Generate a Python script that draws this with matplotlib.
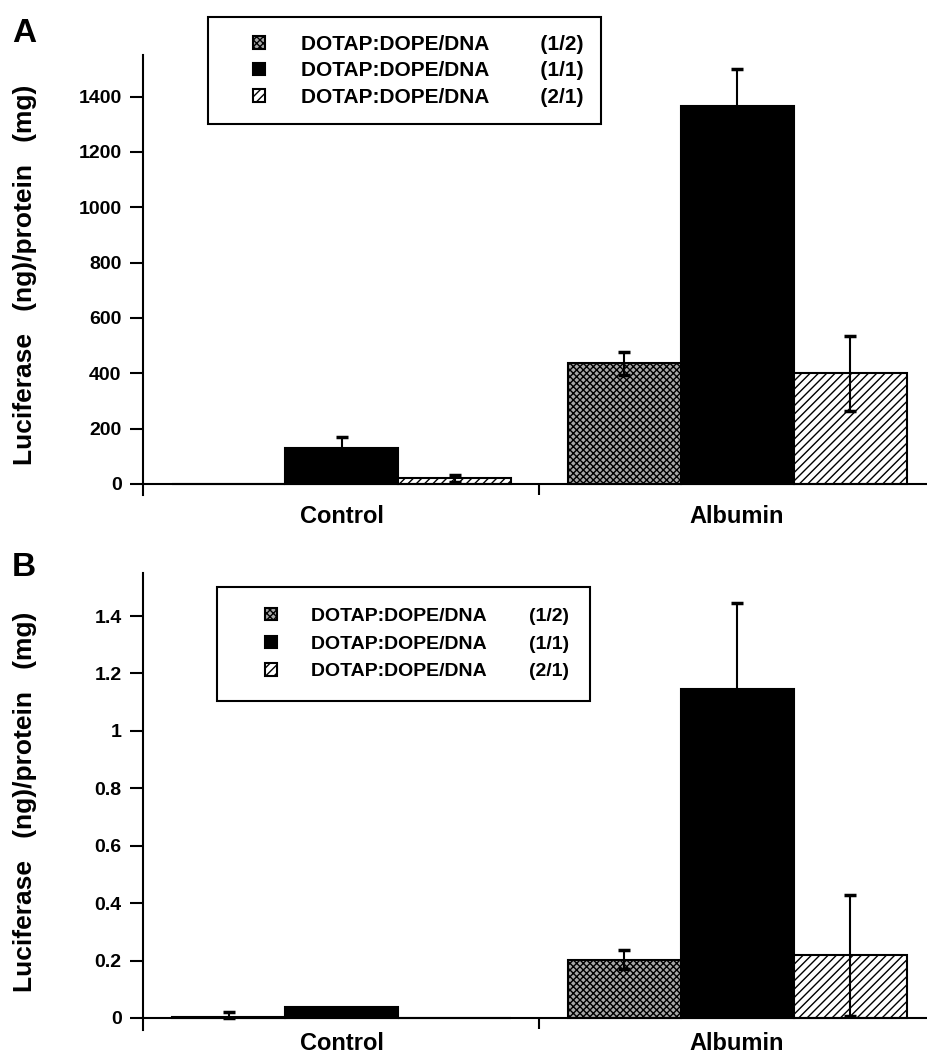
import matplotlib
matplotlib.use("Agg")
import matplotlib.pyplot as plt
import numpy as np
from matplotlib.legend_handler import HandlerPatch
from matplotlib.patches import Rectangle

plt.rcParams['font.family'] = ['Liberation Sans', 'DejaVu Sans']
plt.rcParams['font.weight'] = 'bold'
plt.rcParams['axes.labelweight'] = 'bold'
plt.rcParams['hatch.linewidth'] = 1.0

# --- data ---
groups = ['Control', 'Albumin']
mix = 'DOTAP:DOPE/DNA'
ratios = ['(1/2)', '(1/1)', '(2/1)']

# panel A : luciferase (ng) / protein (mg)   (lower / upper error)
a_half = [0, 436]
a_half_err = [[np.nan, 42], [np.nan, 42]]
a_one = [130, 1365]
a_one_err = [[40, 136], [40, 136]]
a_two = [20, 400]
a_two_err = [[12, 135], [12, 135]]
a_ticks = [0, 200, 400, 600, 800, 1000, 1200, 1400]
a_tick_labels = ['0', '200', '400', '600', '800', '1000', '1200', '1400']

# panel B  (lower / upper error)
b_half = [0.002, 0.203]
b_half_err = [[0.002, 0.034], [0.019, 0.034]]
b_one = [0.039, 1.145]
b_one_err = [[np.nan, 0.30], [np.nan, 0.30]]
b_two = [0.0, 0.218]
b_two_err = [[np.nan, 0.21], [np.nan, 0.21]]
b_ticks = [0, 0.2, 0.4, 0.6, 0.8, 1.0, 1.2, 1.4]
b_tick_labels = ['0', '0.2', '0.4', '0.6', '0.8', '1', '1.2', '1.4']

ylab = 'Luciferase   (ng)/protein   (mg)'

# bar styles for the three ratios
styles = [
    dict(facecolor='#a8a8a8', hatch='xxxxx'),
    dict(facecolor='black', hatch=None),
    dict(facecolor='white', hatch='////'),
]


def small_square(legend, orig_handle, xdescent, ydescent, width, height, fontsize):
    s = 9
    return Rectangle((-xdescent + width / 2 - s / 2, -ydescent + height / 2 - s / 2), s, s)


def draw_panel(ax, vals, errs, ylim, ticks, tick_labels, xpad):
    centers = np.array([0, 3.5])
    handles = []
    for i, (v, e, st) in enumerate(zip(vals, errs, styles)):
        bc = ax.bar(centers + (i - 1), v, width=1.0, yerr=np.array(e),
                    edgecolor='black', linewidth=1.5, zorder=2,
                    error_kw=dict(ecolor='black', elinewidth=1.5, capsize=4,
                                  capthick=2.5, zorder=3),
                    **st)
        handles.append(bc.patches[0])
    ax.set_xlim(-1.76, 5.19)
    ax.set_ylim(*ylim)
    ax.spines['top'].set_visible(False)
    ax.spines['right'].set_visible(False)
    ax.spines['bottom'].set_position(('data', 0))
    ax.spines['left'].set_linewidth(1.5)
    ax.spines['bottom'].set_linewidth(1.5)
    ax.set_yticks(ticks)
    ax.set_yticklabels(tick_labels)
    ax.tick_params(axis='y', direction='out', length=9.4, width=1.5, pad=6, labelsize=14)
    ax.set_xticks(centers)
    ax.set_xticklabels(groups)
    ax.set_xticks([1.75], minor=True)
    ax.tick_params(axis='x', which='major', length=0, pad=xpad, labelsize=17)
    ax.tick_params(axis='x', which='minor', direction='out', length=8, width=1.5)
    ax.set_ylabel(ylab, fontsize=19, fontweight='bold', va='center')
    ax.yaxis.set_label_coords((25 - 143) / 785, 0.5)
    return handles


fig = plt.figure(figsize=(9.28, 10.58), dpi=100)
W, H = 928, 1058
axA = fig.add_axes([143 / W, 1 - 495 / H, 785 / W, 440 / H])
axB = fig.add_axes([143 / W, 1 - 1030 / H, 785 / W, 457 / H])

hA = draw_panel(axA, [a_half, a_one, a_two], [a_half_err, a_one_err, a_two_err],
                (-40, 1550), a_ticks, a_tick_labels, 15)
hB = draw_panel(axB, [b_half, b_one, b_two], [b_half_err, b_one_err, b_two_err],
                (-0.042, 1.55), b_ticks, b_tick_labels, 10)

hmap = {Rectangle: HandlerPatch(patch_func=small_square)}

labA = [mix + ' ' * 9 + r for r in ratios]
legA = fig.legend(hA, labA, loc='upper left', bbox_to_anchor=(208 / W, 1 - 17 / H),
                  bbox_transform=fig.transFigure, fontsize=15, frameon=True,
                  fancybox=False, edgecolor='black', framealpha=1, borderpad=0.85,
                  handlelength=3.2, handletextpad=0.41, labelspacing=0.36,
                  borderaxespad=0, handler_map=hmap)
legA.get_frame().set_linewidth(1.5)

labB = [mix + ' ' * 8 + r for r in ratios]
legB = fig.legend(hB, labB, loc='upper left', bbox_to_anchor=(217 / W, 1 - 587 / H),
                  bbox_transform=fig.transFigure, fontsize=14, frameon=True,
                  fancybox=False, edgecolor='black', framealpha=1, borderpad=1.05,
                  handlelength=3.46, handletextpad=0.33, labelspacing=0.52,
                  borderaxespad=0, handler_map=hmap)
legB.get_frame().set_linewidth(1.5)

fig.text(24 / W, 1 - 33 / H, 'A', fontsize=24, ha='center', va='center')
fig.text(24 / W, 1 - 567 / H, 'B', fontsize=24, ha='center', va='center')

fig.savefig('out.png', dpi=100)
